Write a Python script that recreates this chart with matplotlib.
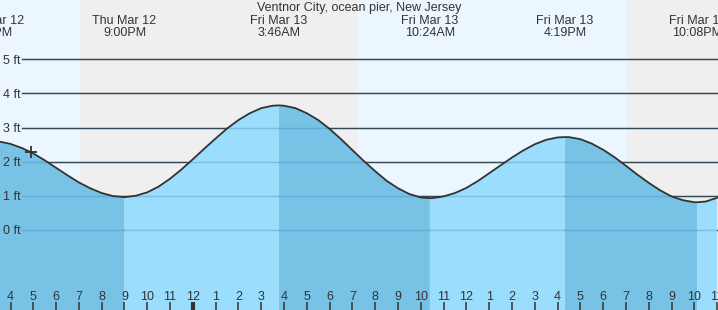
import matplotlib
matplotlib.use("Agg")
import matplotlib.pyplot as plt
from matplotlib.transforms import offset_copy

plt.rcParams['font.family'] = ['Liberation Sans', 'DejaVu Sans']

# hours counted from Thu Mar 12 00:00, tide height in ft
times_hr = [15.5, 16.0, 16.5, 17.0, 17.5, 18.0, 18.5, 19.0, 19.5, 20.0, 20.5, 21.0,
            21.5, 22.0, 22.5, 23.0, 23.5, 24.0, 24.5, 25.0, 25.5, 26.0, 26.5, 27.0,
            27.5, 27.767, 28.0, 28.5, 29.0, 29.5, 30.0, 30.5, 31.0, 31.5, 32.0, 32.5,
            33.0, 33.5, 34.0, 34.4, 34.5, 35.0, 35.5, 36.0, 36.5, 37.0, 37.5, 38.0,
            38.5, 39.0, 39.5, 40.0, 40.317, 40.5, 41.0, 41.5, 42.0, 42.5, 43.0, 43.5,
            44.0, 44.5, 45.0, 45.5, 46.0, 46.133, 46.5, 47.0]
heights_ft = [2.59, 2.52, 2.4, 2.24, 2.04, 1.82, 1.6, 1.39, 1.22, 1.08, 0.99, 0.96,
              1.0, 1.1, 1.27, 1.5, 1.77, 2.07, 2.38, 2.68, 2.97, 3.22, 3.42, 3.57,
              3.64, 3.65, 3.64, 3.57, 3.42, 3.22, 2.96, 2.66, 2.34, 2.02, 1.72, 1.44,
              1.22, 1.05, 0.95, 0.93, 0.93, 0.98, 1.08, 1.23, 1.43, 1.66, 1.89, 2.12,
              2.33, 2.51, 2.64, 2.71, 2.72, 2.72, 2.66, 2.53, 2.35, 2.13, 1.88, 1.62,
              1.38, 1.16, 0.98, 0.87, 0.81, 0.81, 0.83, 0.94]

# high / low tides (H, L, H, L, H, L)
ext_times = [15.19, 21.0, 27.767, 34.4, 40.317, 46.133]
ext_kind = ["H", "L", "H", "L", "H", "L"]
ext_day = ["Thu Mar 12", "Thu Mar 12", "Fri Mar 13", "Fri Mar 13", "Fri Mar 13", "Fri Mar 13"]
ext_clock = ["3:11PM", "9:00PM", "3:46AM", "10:24AM", "4:19PM", "10:08PM"]

# night (sunset -> sunrise)
night_start = [19.05, 43.05]
night_end = [31.2, 55.0]

now_time = 16.9
now_height = 2.27

hour_ticks = list(range(16, 48))
hour_labels = [str((h - 1) % 12 + 1) for h in hour_ticks]
y_levels = [0, 1, 2, 3, 4, 5]

title = "Ventnor City, ocean pier, New Jersey"

day_bg = "#ecf6ff"
night_bg = "#efefef"
rise_fill = "#96dcfd"
fall_fill = "#72c0e5"
ink = "#333333"

fig = plt.figure(figsize=(7.18, 3.10), dpi=100)
ax = fig.add_axes([0, 0, 1, 1])
ax.set_xlim(15.539, 47.04)
ax.set_ylim(-2.35, 6.74)
ax.set_axis_off()

ax.axvspan(15.0, 48.0, color=day_bg, lw=0, zorder=0)
for s, e in zip(night_start, night_end):
    ax.axvspan(s, e, color=night_bg, lw=0, zorder=0)

ytr = offset_copy(ax.get_yaxis_transform(), fig=fig, x=0, y=-4.5, units="dots")
for lv in y_levels:
    ax.axhline(lv, xmin=22 / 718, xmax=1, color=ink, lw=1.0, zorder=1)
    ax.text(3 / 718, lv, f"{lv} ft", transform=ytr,
            ha="left", va="baseline", fontsize=9, color=ink, zorder=6)

# fill: darker while the tide falls (after a high), lighter while it rises
falling = []
for t in times_hr:
    f = False
    for i in range(len(ext_times)):
        nxt = ext_times[i + 1] if i + 1 < len(ext_times) else 99
        if ext_times[i] <= t <= nxt:
            f = ext_kind[i] == "H"
    if t < ext_times[0]:
        f = ext_kind[0] == "L"
    falling.append(f)
rising = [not f for f in falling]
for i, t in enumerate(times_hr):
    if t in ext_times:
        falling[i] = True
        rising[i] = True

ax.fill_between(times_hr, heights_ft, -3, where=falling, color=fall_fill,
                alpha=0.95, lw=0, zorder=2)
ax.fill_between(times_hr, heights_ft, -3, where=rising, color=rise_fill,
                alpha=0.95, lw=0, zorder=2)
for lv in y_levels:
    ax.axhline(lv, xmin=22 / 718, xmax=1, color="#3d8fc4", alpha=0.25, lw=1.0, zorder=3)

ax.plot(times_hr, heights_ft, color=ink, lw=1.3, zorder=4)
ax.plot([now_time], [now_height], marker="+", color=ink, ms=9, mew=1.3, zorder=5)

# header
ax.text(0.5, 1 - 11 / 310, title, transform=ax.transAxes, ha="center", va="baseline",
        fontsize=9, color=ink)
xtr = ax.get_xaxis_transform()
for t, d, c in zip(ext_times, ext_day, ext_clock):
    ax.text(t, 1 - 24 / 310, d, transform=xtr, ha="center", va="baseline",
            fontsize=9, color=ink)
    ax.text(t, 1 - 36 / 310, c, transform=xtr, ha="center", va="baseline",
            fontsize=9, color=ink)

# hour ticks along the bottom
for h, lab in zip(hour_ticks, hour_labels):
    ax.vlines(h, 0, 8 / 310, transform=xtr, color=ink, lw=3 if h % 24 == 0 else 1.1, zorder=6)
    ax.text(h, 10 / 310, lab, transform=xtr, ha="center", va="baseline", fontsize=9,
            color=ink, zorder=6)

fig.savefig("out.png")
